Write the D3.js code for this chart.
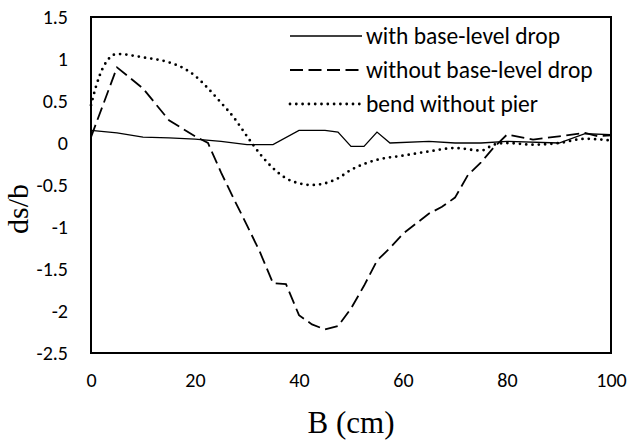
<!DOCTYPE html>
<html>
<head>
<meta charset="utf-8">
<script src="https://cdn.jsdelivr.net/npm/d3@7"></script>
<style>
  body { margin: 0; background: #fff; }
</style>
</head>
<body>
<div id="chart-area"></div>
<script>
// data
const xSolid = [0, 5, 10, 15, 20, 25, 30, 35, 40, 45, 47.5, 50, 52.5, 55, 57.5, 65, 70, 75, 80, 90, 95, 100];
const ySolid = [0.15, 0.12, 0.07, 0.06, 0.045, 0.02, -0.02, -0.02, 0.15, 0.15, 0.13, -0.04, -0.04, 0.13, 0, 0.02, 0, 0, 0.02, 0, 0.11, 0.1];

const xDash = [0, 5, 10, 15, 20, 22.5, 25, 27.5, 30, 32.5, 35, 37.5, 40, 42.5, 45, 47.5, 50, 52.5, 55, 57.5, 60, 62.5, 65, 67.5, 70, 72.5, 75, 77.5, 80, 85, 90, 95, 97.5, 100];
const yDash = [0.07, 0.9, 0.65, 0.27, 0.08, 0, -0.35, -0.67, -0.98, -1.3, -1.67, -1.68, -2.05, -2.16, -2.22, -2.18, -1.97, -1.7, -1.4, -1.25, -1.08, -0.96, -0.84, -0.76, -0.65, -0.38, -0.23, -0.05, 0.1, 0.04, 0.08, 0.12, 0.08, 0.09];

const xDot = [0, 1, 2.5, 5, 10, 15, 17.5, 20, 22.5, 25, 27.5, 30, 32.5, 35, 37.5, 40, 42.5, 45, 47.5, 50, 52.5, 55, 60, 65, 70, 75, 77.5, 80, 85, 90, 95, 100];
const yDot = [0.45, 0.68, 0.92, 1.06, 1.02, 0.96, 0.9, 0.8, 0.65, 0.48, 0.3, 0.08, -0.13, -0.3, -0.42, -0.48, -0.5, -0.48, -0.42, -0.32, -0.25, -0.2, -0.15, -0.1, -0.06, -0.09, -0.02, 0, -0.02, 0, 0.05, 0.03];

const seriesNames = ["with base-level drop", "without base-level drop", "bend without pier"];
const xTicks = [0, 20, 40, 60, 80, 100];
const yTicks = [-2.5, -2, -1.5, -1, -0.5, 0, 0.5, 1, 1.5];

const width = 630;
const height = 441;
const margin = {left: 91, right: 19, top: 17, bottom: 88};

const svg = d3.select("#chart-area")
    .append("svg")
    .attr("width", width)
    .attr("height", height);

const x = d3.scaleLinear()
    .domain([0, 100])
    .range([margin.left, width - margin.right]);

const y = d3.scaleLinear()
    .domain([-2.5, 1.5])
    .range([height - margin.bottom, margin.top]);

const tickFont = "Carlito, Calibri, Lato, sans-serif";
const titleFont = "'Liberation Serif', 'Times New Roman', serif";

// axes, no tick marks, only labels
const gx = svg.append("g")
    .attr("transform", `translate(0,${height - margin.bottom})`)
    .call(d3.axisBottom(x).tickValues(xTicks).tickSize(0).tickPadding(20).tickFormat(d => String(d)));
gx.select(".domain").remove();

const gy = svg.append("g")
    .attr("transform", `translate(${margin.left},0)`)
    .call(d3.axisLeft(y).tickValues(yTicks).tickSize(0).tickPadding(23).tickFormat(d => String(d)));
gy.select(".domain").remove();

svg.selectAll(".tick text")
    .attr("font-family", tickFont)
    .attr("font-size", 20)
    .attr("fill", "#000");

// plot frame
svg.append("rect")
    .attr("x", x(0))
    .attr("y", y(1.5))
    .attr("width", x(100) - x(0))
    .attr("height", y(-2.5) - y(1.5))
    .attr("fill", "none")
    .attr("stroke", "#000")
    .attr("stroke-width", 2);

// axis titles
svg.append("text")
    .attr("x", (x(0) + x(100)) / 2)
    .attr("y", 433)
    .attr("text-anchor", "middle")
    .attr("font-family", titleFont)
    .attr("font-size", 31)
    .text("B (cm)");

svg.append("text")
    .attr("transform", "translate(28,209) rotate(-90)")
    .attr("text-anchor", "middle")
    .attr("font-family", titleFont)
    .attr("font-size", 30)
    .text("ds/b");

// lines
const styles = [
    {width: 1.3, dash: null, cap: "butt", curve: d3.curveLinear},
    {width: 1.8, dash: "13 5.5", cap: "butt", curve: d3.curveLinear},
    {width: 2.8, dash: "0 6.3", cap: "round", curve: d3.curveMonotoneX}
];

const series = [
    d3.zip(xSolid, ySolid),
    d3.zip(xDash, yDash),
    d3.zip(xDot, yDot)
];

series.forEach((pts, i) => {
    const line = d3.line()
        .x(d => x(d[0]))
        .y(d => y(d[1]))
        .curve(styles[i].curve);
    svg.append("path")
        .datum(pts)
        .attr("d", line)
        .attr("fill", "none")
        .attr("stroke", "#000")
        .attr("stroke-width", styles[i].width)
        .attr("stroke-linecap", styles[i].cap)
        .attr("stroke-dasharray", styles[i].dash);
});

// legend
const legend = svg.append("g");
seriesNames.forEach((name, i) => {
    const ly = 36 + i * 34;
    legend.append("line")
        .attr("x1", 290).attr("x2", 362)
        .attr("y1", ly).attr("y2", ly)
        .attr("stroke", "#000")
        .attr("stroke-width", styles[i].width)
        .attr("stroke-linecap", styles[i].cap)
        .attr("stroke-dasharray", styles[i].dash);
    legend.append("text")
        .attr("x", 366)
        .attr("y", ly)
        .attr("dy", "0.35em")
        .attr("font-family", tickFont)
        .attr("font-size", 23.5)
        .text(name);
});
</script>
</body>
</html>
